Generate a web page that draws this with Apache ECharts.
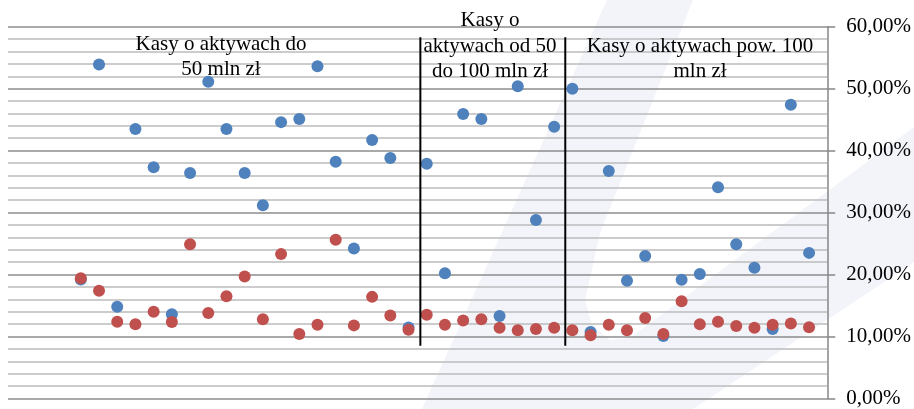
<!DOCTYPE html>
<html><head><meta charset="utf-8">
<script src="https://cdn.jsdelivr.net/npm/echarts@6/dist/echarts.min.js"></script>
<style>html,body{margin:0;padding:0;background:#fff}#c{width:914px;height:409px}</style>
</head><body><div id="c"></div>
<script>
// Kasa (bank) numbers along the horizontal axis
const banks = [1,2,3,4,5,6,7,8,9,10,11,12,13,14,15,16,17,18,19,20,21,22,23,24,25,26,27,28,29,30,31,32,33,34,35,36,37,38,39,40,41];
// blue series (%)
const seriesBlue = [19.2,53.9,14.8,43.5,37.3,13.6,36.4,51.1,43.5,36.4,31.2,44.6,45.1,53.6,38.2,24.2,41.7,38.8,11.45,37.9,20.2,45.9,45.1,13.3,50.4,28.8,43.85,50.0,10.75,36.7,19.0,23.0,10.1,19.15,20.1,34.1,24.9,21.1,11.2,47.4,23.5];
// red series (%)
const seriesRed = [19.4,17.4,12.4,12.0,14.0,12.35,24.9,13.8,16.5,19.7,12.8,23.3,10.4,11.9,25.6,11.8,16.4,13.4,11.1,13.5,11.9,12.6,12.8,11.4,11.0,11.2,11.4,11.0,10.2,11.9,11.0,13.0,10.4,15.7,12.0,12.4,11.7,11.4,11.9,12.1,11.5];
// group separators (x position between banks) and their vertical extent (%)
const dividerX = [19.65, 27.61];
const dividerSpan = [8.5, 58.3];
// group labels
const group1 = ["Kasy o aktywach do", "50 mln zł"];
const group2 = ["Kasy o", "aktywach od 50", "do 100 mln zł"];
const group3 = ["Kasy o aktywach pow. 100", "mln zł"];

const FONT = "'Liberation Serif','Times New Roman',serif";
const chart = echarts.init(document.getElementById('c'));

function textEl(str, x, y) {
  return { type: 'text', x: x, y: y, z: 10, silent: true,
    style: { text: str, fill: '#000', font: '21px ' + FONT, textAlign: 'center', textVerticalAlign: 'middle' } };
}
const graphics = [
  { type: 'polygon', z: -10, silent: true,
    shape: { points: [[607,0],[693,0],[600,233],[585,300],[592,325],[610,340],[630,338],[914,127],[914,262],[693,409],[422,409]] },
    style: { fill: '#f2f4f9' } }
];
group1.forEach((t, i) => graphics.push(textEl(t, 221, 44.5 + i * 25)));
group2.forEach((t, i) => graphics.push(textEl(t, 490, 20.5 + i * 25.5)));
group3.forEach((t, i) => graphics.push(textEl(t, 700, 46 + i * 25)));

const dividerSeries = dividerX.map(x => ({
  type: 'line', data: [[x, dividerSpan[0]], [x, dividerSpan[1]]],
  symbol: 'none', silent: true, z: 6,
  lineStyle: { color: '#000', width: 2 }
}));

chart.setOption({
  animation: false,
  grid: { left: 8, right: 86, top: 26.7, bottom: 8.3 },
  xAxis: { type: 'value', min: -3, max: 42, show: false },
  yAxis: {
    type: 'value', position: 'right', min: 0, max: 60, interval: 10,
    axisLine: { show: true, onZero: false, lineStyle: { color: '#868686', width: 1.5 } },
    axisTick: { show: true, length: 8, lineStyle: { color: '#868686', width: 1.5 } },
    axisLabel: { margin: 19, fontFamily: FONT, fontSize: 21, color: '#000',
      formatter: v => v.toFixed(2).replace('.', ',') + '%' },
    splitLine: { show: true, lineStyle: { color: '#8c8c8c', width: 1.5 } },
    minorTick: { show: false, splitNumber: 5 },
    minorSplitLine: { show: true, lineStyle: { color: '#bcbcbc', width: 1.5 } }
  },
  graphic: graphics,
  series: [
    { type: 'scatter', data: banks.map((b, i) => [b, seriesBlue[i]]), symbolSize: 12, z: 3,
      itemStyle: { color: '#4f81bd', opacity: 1 } },
    { type: 'scatter', data: banks.map((b, i) => [b, seriesRed[i]]), symbolSize: 12, z: 4,
      itemStyle: { color: '#c0504d', opacity: 1 } }
  ].concat(dividerSeries)
});
</script>
</body></html>
